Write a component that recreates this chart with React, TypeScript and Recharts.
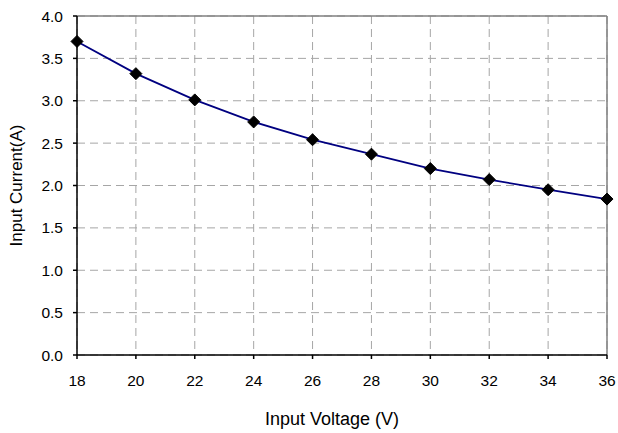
import React from "react";
import { LineChart, Line, XAxis, YAxis, CartesianGrid, ReferenceLine } from "recharts";

const voltages = [18, 20, 22, 24, 26, 28, 30, 32, 34, 36];
const currents = [3.70, 3.32, 3.01, 2.75, 2.54, 2.37, 2.20, 2.07, 1.95, 1.84];
const xTicks = [18, 20, 22, 24, 26, 28, 30, 32, 34, 36];
const yTicks = [0, 0.5, 1.0, 1.5, 2.0, 2.5, 3.0, 3.5, 4.0];

const data = voltages.map((v, i) => ({ v, c: currents[i] }));

const FONT = "'Liberation Sans', Arial, sans-serif";

const Diamond = (props: any) => {
  const { cx, cy } = props;
  if (cx == null || cy == null) return null;
  const r = 6;
  return (
    <polygon
      points={`${cx},${cy - r} ${cx + r},${cy} ${cx},${cy + r} ${cx - r},${cy}`}
      fill="#000"
      stroke="#000"
    />
  );
};

export default function App() {
  return (
    <div style={{ position: "absolute", left: 0, top: 0, background: "#fff" }}>
      <LineChart
        width={618}
        height={433}
        data={data}
        margin={{ top: 16, right: 11, left: 0, bottom: 0 }}
        style={{ fontFamily: FONT }}
      >
        <CartesianGrid stroke="#a6a6a6" strokeDasharray="8 5" strokeWidth={1} />
        <ReferenceLine y={4} stroke="#808080" strokeWidth={1.5} />
        <ReferenceLine x={36} stroke="#808080" strokeWidth={1.5} />
        <XAxis
          dataKey="v"
          type="number"
          domain={[18, 36]}
          ticks={xTicks}
          height={78}
          stroke="#000"
          strokeWidth={1.5}
          tickSize={4}
          tickMargin={16}
          tick={{ fill: "#000", fontSize: 15.5, fontFamily: FONT }}
          label={{
            value: "Input Voltage (V)",
            position: "insideBottom",
            offset: 8,
            dx: -10,
            style: { fill: "#000", fontSize: 18, fontFamily: FONT },
          }}
        />
        <YAxis
          type="number"
          domain={[0, 4]}
          ticks={yTicks}
          width={77}
          stroke="#000"
          strokeWidth={1.5}
          tickSize={4}
          tickMargin={10}
          tickFormatter={(t: number) => t.toFixed(1)}
          tick={{ fill: "#000", fontSize: 15.5, fontFamily: FONT }}
          label={{
            value: "Input Current(A)",
            angle: -90,
            position: "insideLeft",
            offset: 16,
            style: { fill: "#000", fontSize: 17, fontFamily: FONT, textAnchor: "middle" },
          }}
        />
        <Line
          dataKey="c"
          stroke="#000080"
          strokeWidth={1.8}
          dot={<Diamond />}
          activeDot={false}
          isAnimationActive={false}
        />
      </LineChart>
    </div>
  );
}
